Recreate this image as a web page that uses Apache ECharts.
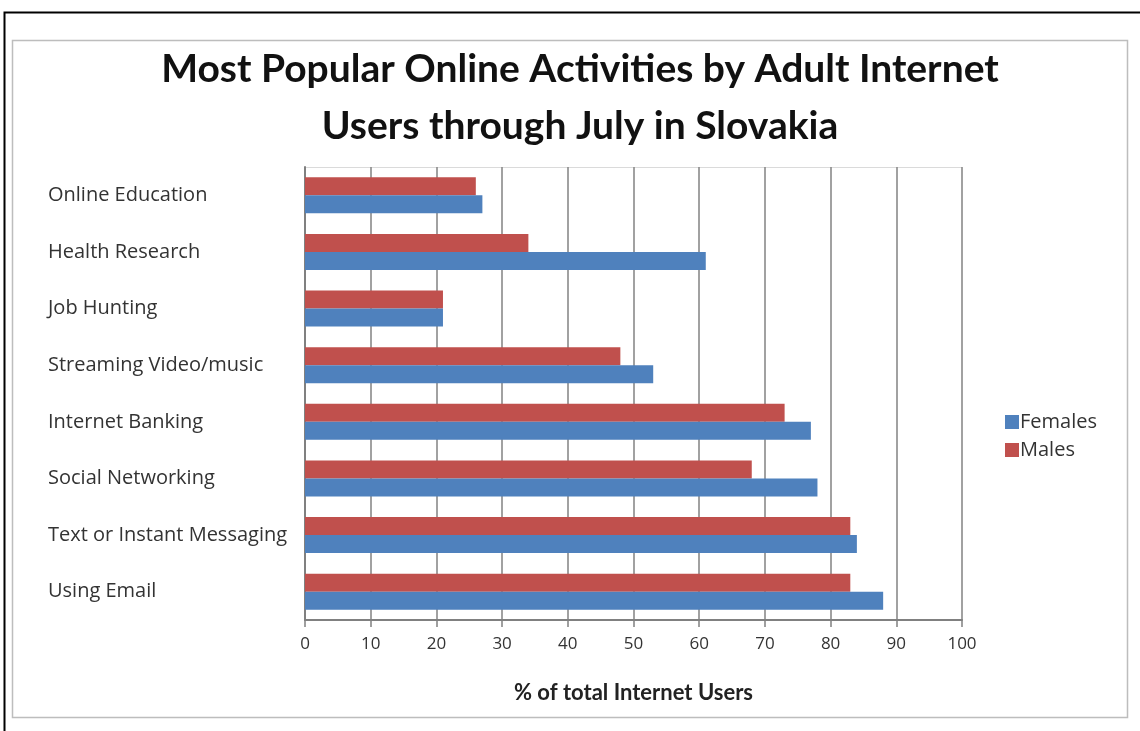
<!DOCTYPE html>
<html>
<head>
<meta charset="utf-8">
<script src="https://cdn.jsdelivr.net/npm/echarts@6/dist/echarts.min.js"></script>
<style>
  html, body { margin: 0; padding: 0; background: #fff; }
  #chart { width: 1140px; height: 731px; }
</style>
</head>
<body>
<div id="chart"></div>
<script>
// Activities, listed bottom-to-top as they appear on the category axis
const activities = [
  'Using Email',
  'Text or Instant Messaging',
  'Social Networking',
  'Internet Banking',
  'Streaming Video/music',
  'Job Hunting',
  'Health Research',
  'Online Education'
];
// Share of internet users (%) per activity
const females = [88, 84, 78, 77, 53, 21, 61, 27];
const males   = [83, 83, 68, 73, 48, 21, 34, 26];
const xTicks = [0, 10, 20, 30, 40, 50, 60, 70, 80, 90, 100];

const BLUE = '#4F81BD';
const RED = '#C0504D';
const TITLE_FONT = 'Lato, "Open Sans", "Liberation Sans", sans-serif';
const FONT = '"Open Sans", Lato, "Liberation Sans", sans-serif';

const chart = echarts.init(document.getElementById('chart'), null, { renderer: 'canvas' });

chart.setOption({
  backgroundColor: '#ffffff',
  animation: false,
  title: {
    text: 'Most Popular Online Activities by Adult Internet\nUsers through July in Slovakia',
    left: 575,
    textAlign: 'center',
    top: 36,
    textStyle: {
      fontFamily: TITLE_FONT,
      fontWeight: 'bold',
      fontSize: 39,
      lineHeight: 57,
      color: '#111'
    }
  },
  legend: {
    orient: 'vertical',
    left: 1000,
    top: 407,
    itemWidth: 14,
    itemHeight: 14,
    itemGap: 8,
    icon: 'rect',
    data: ['Females', 'Males'],
    textStyle: { fontFamily: FONT, fontSize: 20, color: '#333', padding: [0, 0, 0, -4] }
  },
  grid: {
    left: 305,
    right: 178,
    top: 167,
    bottom: 111,
    containLabel: false
  },
  xAxis: {
    type: 'value',
    min: 0,
    max: 100,
    interval: 10,
    name: '% of total Internet Users',
    nameLocation: 'middle',
    nameGap: 62,
    nameTextStyle: { fontFamily: TITLE_FONT, fontWeight: 'bold', fontSize: 22, color: '#222' },
    axisLine: { show: true, lineStyle: { color: '#808080', width: 2 } },
    axisTick: { show: true, length: 7, lineStyle: { color: '#808080', width: 1.5 } },
    axisLabel: {
      fontFamily: FONT, fontSize: 17, color: '#333', margin: 16,
      formatter: v => (xTicks.indexOf(v) >= 0 ? String(v) : '')
    },
    splitLine: { show: true, lineStyle: { color: '#8a8a8a', width: 1.6 } }
  },
  yAxis: {
    type: 'category',
    data: activities,
    axisLine: { show: true, lineStyle: { color: '#808080', width: 2 } },
    axisTick: { show: false },
    axisLabel: {
      fontFamily: FONT, fontSize: 20, color: '#333',
      align: 'left', margin: 257
    }
  },
  series: [
    {
      name: 'Males',
      type: 'bar',
      data: males,
      itemStyle: { color: RED },
      barWidth: 18,
      barGap: '0%',
      barCategoryGap: '36%'
    },
    {
      name: 'Females',
      type: 'bar',
      data: females,
      itemStyle: { color: BLUE },
      barWidth: 18,
      barGap: '0%',
      barCategoryGap: '36%'
    }
  ],
  graphic: [
    // outer dark frame
    { type: 'polyline', silent: true,
      shape: { points: [[4.5, 731], [4.5, 12.5], [1140, 12.5]] },
      style: { stroke: '#000', lineWidth: 2, fill: null } },
    // chart area border
    { type: 'rect', silent: true,
      shape: { x: 12.5, y: 40.5, width: 1115, height: 677 },
      style: { stroke: '#bdbdbd', lineWidth: 1.5, fill: null } },
    // faint plot-area top edge
    { type: 'line', silent: true,
      shape: { x1: 305, y1: 167.5, x2: 962, y2: 167.5 },
      style: { stroke: '#dadada', lineWidth: 1 } }
  ]
});
</script>
</body>
</html>
